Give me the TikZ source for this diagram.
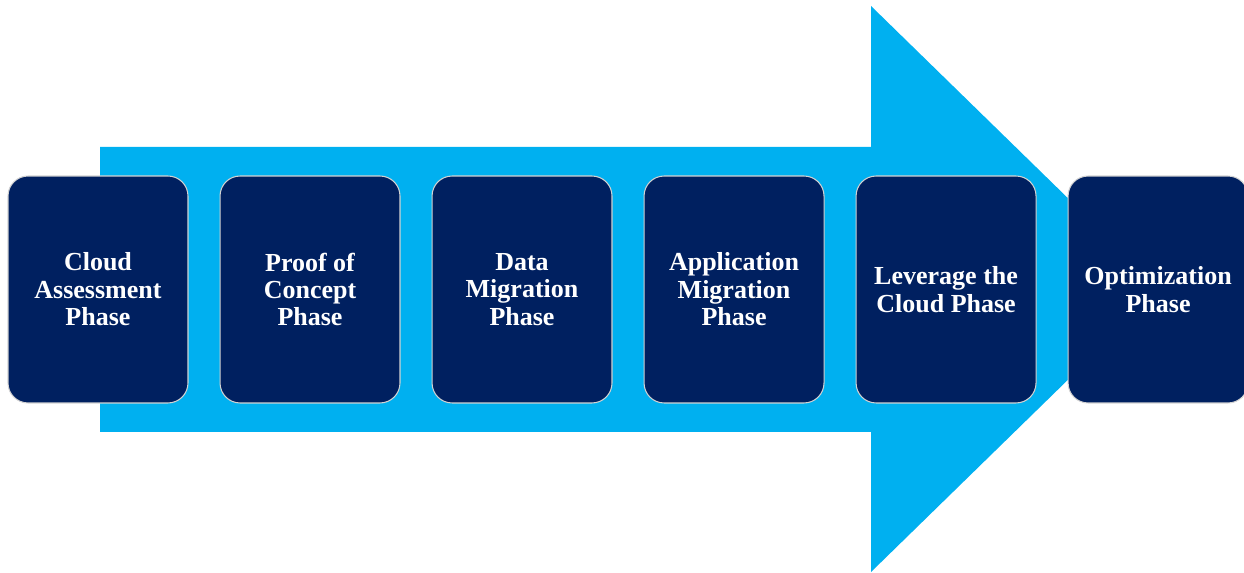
\documentclass[tikz,border=0pt]{standalone}
\usepackage{fontspec}
\setmainfont{Liberation Serif}
\usetikzlibrary{positioning}

\definecolor{arrowblue}{HTML}{00B0F0}
\definecolor{phasenavy}{HTML}{002060}

\begin{document}
\begin{tikzpicture}[x=0.02cm, y=-0.02cm, node distance=0.62cm,
    phase/.style={draw=gray!35, line width=0.6pt, fill=phasenavy, rounded corners=0.4cm,
      minimum width=3.6cm, minimum height=4.54cm, text=white, align=center,
      font=\bfseries\fontsize{14.8}{15.6}\selectfont}]
  \useasboundingbox (0,0) rectangle (1244,573);
  \fill[arrowblue] (100,147) -- (871,147) -- (871,6) -- (1161,289) -- (871,572) -- (871,432) -- (100,432) -- cycle;
  \node[phase] (p1) at (98,289.5) {Cloud\\Assessment\\Phase};
  \node[phase, right=of p1] (p2) {Proof of\\Concept\\Phase};
  \node[phase, right=of p2] (p3) {Data\\Migration\\Phase};
  \node[phase, right=of p3] (p4) {Application\\Migration\\Phase};
  \node[phase, right=of p4] (p5) {Leverage the\\Cloud Phase};
  \node[phase, right=of p5] (p6) {Optimization\\Phase};
\end{tikzpicture}
\end{document}
